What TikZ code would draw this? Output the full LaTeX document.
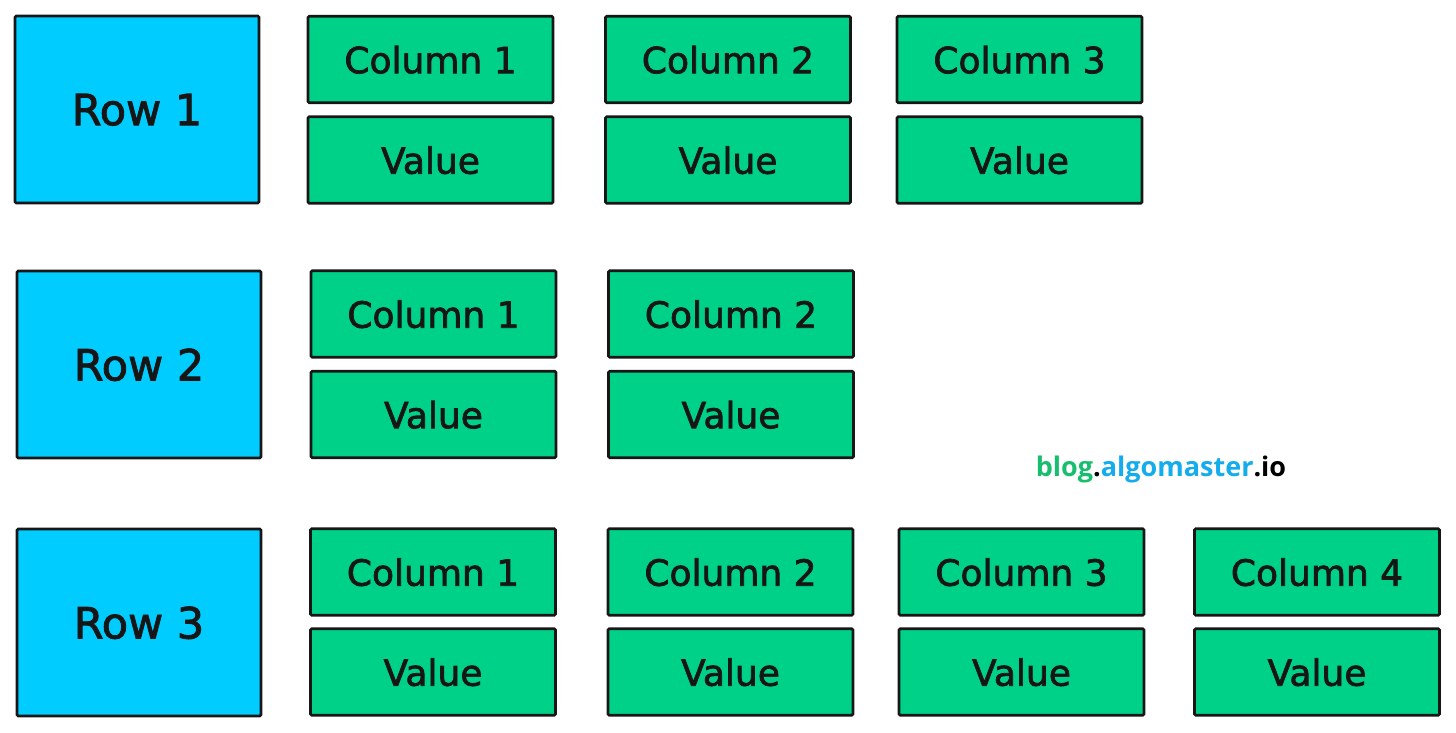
\documentclass[tikz,border=0pt]{standalone}
\usepackage{fontspec}
\setmainfont{DejaVu Sans}
\newfontfamily\cellfont[BoldFont={DejaVu Sans},BoldFeatures={FakeBold=2}]{DejaVu Sans}
\newfontfamily\wmfont{Open Sans}
\definecolor{rowblue}{RGB}{0,204,255}
\definecolor{cellgreen}{RGB}{0,209,136}
\definecolor{edgeblack}{RGB}{22,22,22}
\definecolor{wmgreen}{RGB}{22,190,110}
\definecolor{wmblue}{RGB}{20,172,235}
\begin{document}
\begin{tikzpicture}[x=1pt,y=-1pt,
  box/.style={draw=edgeblack,line width=2.6pt,rounded corners=1.2pt,inner sep=0pt,text=edgeblack},
  rowbox/.style={box,fill=rowblue,minimum width=244pt,minimum height=187pt,font=\cellfont\bfseries\fontsize{43}{48}\selectfont,text depth=-5pt},
  cellbox/.style={box,fill=cellgreen,minimum width=245pt,minimum height=86.5pt,font=\cellfont\bfseries\fontsize{36}{42}\selectfont,text depth=-6pt}]
\useasboundingbox (0,0) rectangle (1456,732);
% Row 1
\node[rowbox] (r1) at (137,109.5) {Row 1};
\node[cellbox] (r1c1) at (430.5,59.5) {Column 1};
\node[cellbox] (r1v1) at (430.5,160) {Value};
\node[cellbox] (r1c2) at (728,59.5) {Column 2};
\node[cellbox] (r1v2) at (728,160) {Value};
\node[cellbox] (r1c3) at (1019.5,59.5) {Column 3};
\node[cellbox] (r1v3) at (1019.5,160) {Value};
% Row 2
\node[rowbox] (r2) at (139,364.5) {Row 2};
\node[cellbox] (r2c1) at (433.5,314) {Column 1};
\node[cellbox] (r2v1) at (433.5,414.5) {Value};
\node[cellbox] (r2c2) at (731,314) {Column 2};
\node[cellbox] (r2v2) at (731,414.5) {Value};
% Row 3
\node[rowbox] (r3) at (139,622.5) {Row 3};
\node[cellbox] (r3c1) at (433,572) {Column 1};
\node[cellbox] (r3v1) at (433,672) {Value};
\node[cellbox] (r3c2) at (730.5,572) {Column 2};
\node[cellbox] (r3v2) at (730.5,672) {Value};
\node[cellbox] (r3c3) at (1021.5,572) {Column 3};
\node[cellbox] (r3v3) at (1021.5,672) {Value};
\node[cellbox] (r3c4) at (1317,572) {Column 4};
\node[cellbox] (r3v4) at (1317,672) {Value};
% watermark
\node[font=\wmfont\bfseries\fontsize{27}{32}\selectfont,inner sep=0pt] (wm) at (1161,469)
  {\textcolor{wmgreen}{blog}\textcolor{black}{.}\textcolor{wmblue}{algomaster}\textcolor{black}{.io}};
\end{tikzpicture}
\end{document}
